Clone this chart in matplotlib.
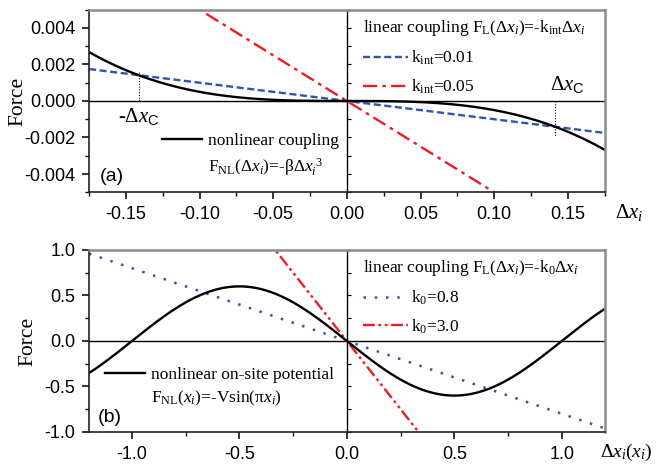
import numpy as np
import matplotlib
matplotlib.use('Agg')
import matplotlib.pyplot as plt
from matplotlib.ticker import MultipleLocator, FormatStrFormatter

plt.rcParams['font.family'] = 'Liberation Sans'
plt.rcParams['mathtext.fontset'] = 'custom'
plt.rcParams['mathtext.rm'] = 'Liberation Serif'
plt.rcParams['mathtext.it'] = 'Liberation Serif:italic'
plt.rcParams['mathtext.bf'] = 'Liberation Serif:bold'
plt.rcParams['mathtext.sf'] = 'Liberation Sans'

# ---------------- data / parameters ----------------
# panel (a): nonlinear coupling F = -beta*dx^3, linear coupling F = -k_int*dx
beta = 0.5
k_int = [0.01, 0.05]
k_int_labels = ['0.01', '0.05']
xlim_a = (-0.175, 0.175)
ylim_a = (-0.005, 0.005)
xticks_a = [-0.15, -0.10, -0.05, 0.00, 0.05, 0.10, 0.15]
yticks_a = [-0.004, -0.002, 0.000, 0.002, 0.004]
dxc_top = [0.0016, -0.0019]   # extent of dotted markers at -dx_C and +dx_C

# panel (b): on-site potential F = -V*sin(pi*x), linear coupling F = -k0*dx
V = 0.6
k0 = [0.8, 3.0]
k0_labels = ['0.8', '3.0']
xlim_b = (-1.2, 1.2)
ylim_b = (-1.0, 1.0)
xticks_b = [-1.0, -0.5, 0.0, 0.5, 1.0]
yticks_b = [-1.0, -0.5, 0.0, 0.5, 1.0]

BLUE = '#3353b0'
RED = '#ee1c24'
SERIF = 'Liberation Serif'

fig = plt.figure(figsize=(6.57, 4.65), dpi=100)
axA = fig.add_axes([0.1355, 0.5865, 0.785, 0.3927])
axB = fig.add_axes([0.1355, 0.071, 0.785, 0.3914])


def style_axes(ax, xmaj, xmin, ymaj, ymin, fmt_x, fmt_y, zero_step):
    for s in ['left', 'bottom']:
        ax.spines[s].set_color('#222222')
        ax.spines[s].set_linewidth(1.2)
    for s in ['top', 'right']:
        ax.spines[s].set_color('#8c8c8c')
        ax.spines[s].set_linewidth(1.8)
    ax.xaxis.set_major_locator(MultipleLocator(xmaj))
    ax.xaxis.set_minor_locator(MultipleLocator(xmin))
    ax.yaxis.set_major_locator(MultipleLocator(ymaj))
    ax.yaxis.set_minor_locator(MultipleLocator(ymin))
    ax.xaxis.set_major_formatter(FormatStrFormatter(fmt_x))
    ax.yaxis.set_major_formatter(FormatStrFormatter(fmt_y))
    ax.tick_params(which='major', direction='out', length=5, width=1.1,
                   labelsize=13, top=False, right=False, pad=5)
    ax.tick_params(which='minor', direction='out', length=3, width=1.0,
                   top=False, right=False)
    ax.axhline(0, color='k', lw=1.0, zorder=1)
    sec = ax.secondary_yaxis(0.5)
    sec.yaxis.set_major_locator(MultipleLocator(zero_step))
    sec.tick_params(direction='out', length=3, width=0.8,
                    labelright=False, labelleft=False)
    sec.spines['right'].set_color('k')
    sec.spines['right'].set_linewidth(1.0)


# ---------------- panel (a) ----------------
xa = np.linspace(xlim_a[0], xlim_a[1], 400)
lb1, = axA.plot(xa, -k_int[0] * xa, color=BLUE, lw=1.7, ls=(0, (3, 1.5)),
                label=r'k$_{\mathrm{int}}$=' + k_int_labels[0])
lr1, = axA.plot(xa, -k_int[1] * xa, color=RED, lw=1.7, ls=(0, (6, 2.2, 1.5, 2.2)),
                label=r'k$_{\mathrm{int}}$=' + k_int_labels[1])
lk1, = axA.plot(xa, -beta * xa ** 3, color='k', lw=1.7)
axA.set_xlim(*xlim_a)
axA.set_ylim(*ylim_a)
style_axes(axA, 0.05, 0.025, 0.002, 0.001, '%.2f', '%.3f', 0.001)
axA.set_xticks(xticks_a)
axA.set_yticks(yticks_a)

dxc = np.sqrt(k_int[0] / beta)
axA.plot([-dxc, -dxc], [0, dxc_top[0]], color='k', lw=0.8, ls=(0, (1, 1.5)))
axA.plot([dxc, dxc], [0, dxc_top[1]], color='k', lw=0.8, ls=(0, (1, 1.5)))
axA.text(-dxc, -0.0003, r'-Δ$x_{\mathsf{C}}$', ha='center', va='top',
         fontsize=15, family=SERIF)
axA.text(dxc + 0.008, 0.0003, r'Δ$x_{\mathsf{C}}$', ha='center', va='bottom',
         fontsize=15, family=SERIF)

legA = axA.legend(handles=[lb1, lr1], loc='upper left', bbox_to_anchor=(0.531, 0.952),
                  frameon=False, borderpad=0, borderaxespad=0,
                  prop=dict(family=SERIF, size=12.5), handlelength=2.6,
                  handletextpad=0.15, labelspacing=0.6,
                  title=r'linear coupling F$_{\mathrm{L}}$(Δ$x_i$)=-k$_{\mathrm{int}}$Δ$x_i$',
                  title_fontproperties=dict(family=SERIF, size=12.5), alignment='left')
axA.add_artist(legA)
axA.legend(handles=[lk1, plt.Line2D([], [], ls='none')],
           labels=['nonlinear coupling', r'F$_{\mathrm{NL}}$(Δ$x_i$)=-βΔ$x_i^{\ 3}$'],
           loc='upper left', bbox_to_anchor=(0.1415, 0.327),
           frameon=False, borderpad=0, borderaxespad=0,
           prop=dict(family=SERIF, size=12.5), handlelength=2.3,
           handletextpad=0.35, labelspacing=0.45)
axA.text(0.021, 0.084, '(a)', transform=axA.transAxes, ha='left', va='center', fontsize=14)
axA.text(1.02, -0.11, r'Δ$x_i$', transform=axA.transAxes, ha='left', va='center',
         fontsize=15, family=SERIF)
axA.set_ylabel('Force', family=SERIF, fontsize=15.5)
axA.yaxis.set_label_coords(-0.12, 0.5)

# ---------------- panel (b) ----------------
xb = np.linspace(xlim_b[0], xlim_b[1], 400)
lb2, = axB.plot(xb, -k0[0] * xb, color=BLUE, lw=1.8, ls=(0, (1, 3.5)),
                label=r'k$_0$=' + k0_labels[0])
lr2, = axB.plot(xb, -k0[1] * xb, color=RED, lw=1.7, ls=(0, (5, 1.5, 1.2, 1.5, 1.2, 1.5)),
                label=r'k$_0$=' + k0_labels[1])
lk2, = axB.plot(xb, -V * np.sin(np.pi * xb), color='k', lw=1.7)
axB.set_xlim(*xlim_b)
axB.set_ylim(*ylim_b)
style_axes(axB, 0.5, 0.25, 0.5, 0.25, '%.1f', '%.1f', 0.25)
axB.set_xticks(xticks_b)
axB.set_yticks(yticks_b)

legB = axB.legend(handles=[lb2, lr2], loc='upper left', bbox_to_anchor=(0.531, 0.955),
                  frameon=False, borderpad=0, borderaxespad=0,
                  prop=dict(family=SERIF, size=12.5), handlelength=2.6,
                  handletextpad=0.15, labelspacing=0.6,
                  title=r'linear coupling F$_{\mathrm{L}}$(Δ$x_i$)=-k$_0$Δ$x_i$',
                  title_fontproperties=dict(family=SERIF, size=12.5), alignment='left')
axB.add_artist(legB)
axB.legend(handles=[lk2, plt.Line2D([], [], ls='none')],
           labels=['nonlinear on-site potential', r'F$_{\mathrm{NL}}$($x_i$)=-Vsin(π$x_i$)'],
           loc='upper left', bbox_to_anchor=(0.031, 0.358),
           frameon=False, borderpad=0, borderaxespad=0,
           prop=dict(family=SERIF, size=12.5), handlelength=2.3,
           handletextpad=0.35, labelspacing=0.35)
axB.text(0.017, 0.077, '(b)', transform=axB.transAxes, ha='left', va='center', fontsize=14)
axB.text(0.99, -0.11, r'Δ$x_i$($x_i$)', transform=axB.transAxes, ha='left',
         va='center', fontsize=14, family=SERIF)
axB.set_ylabel('Force', family=SERIF, fontsize=15.5)
axB.yaxis.set_label_coords(-0.10, 0.5)

fig.savefig('out.png', dpi=100)
